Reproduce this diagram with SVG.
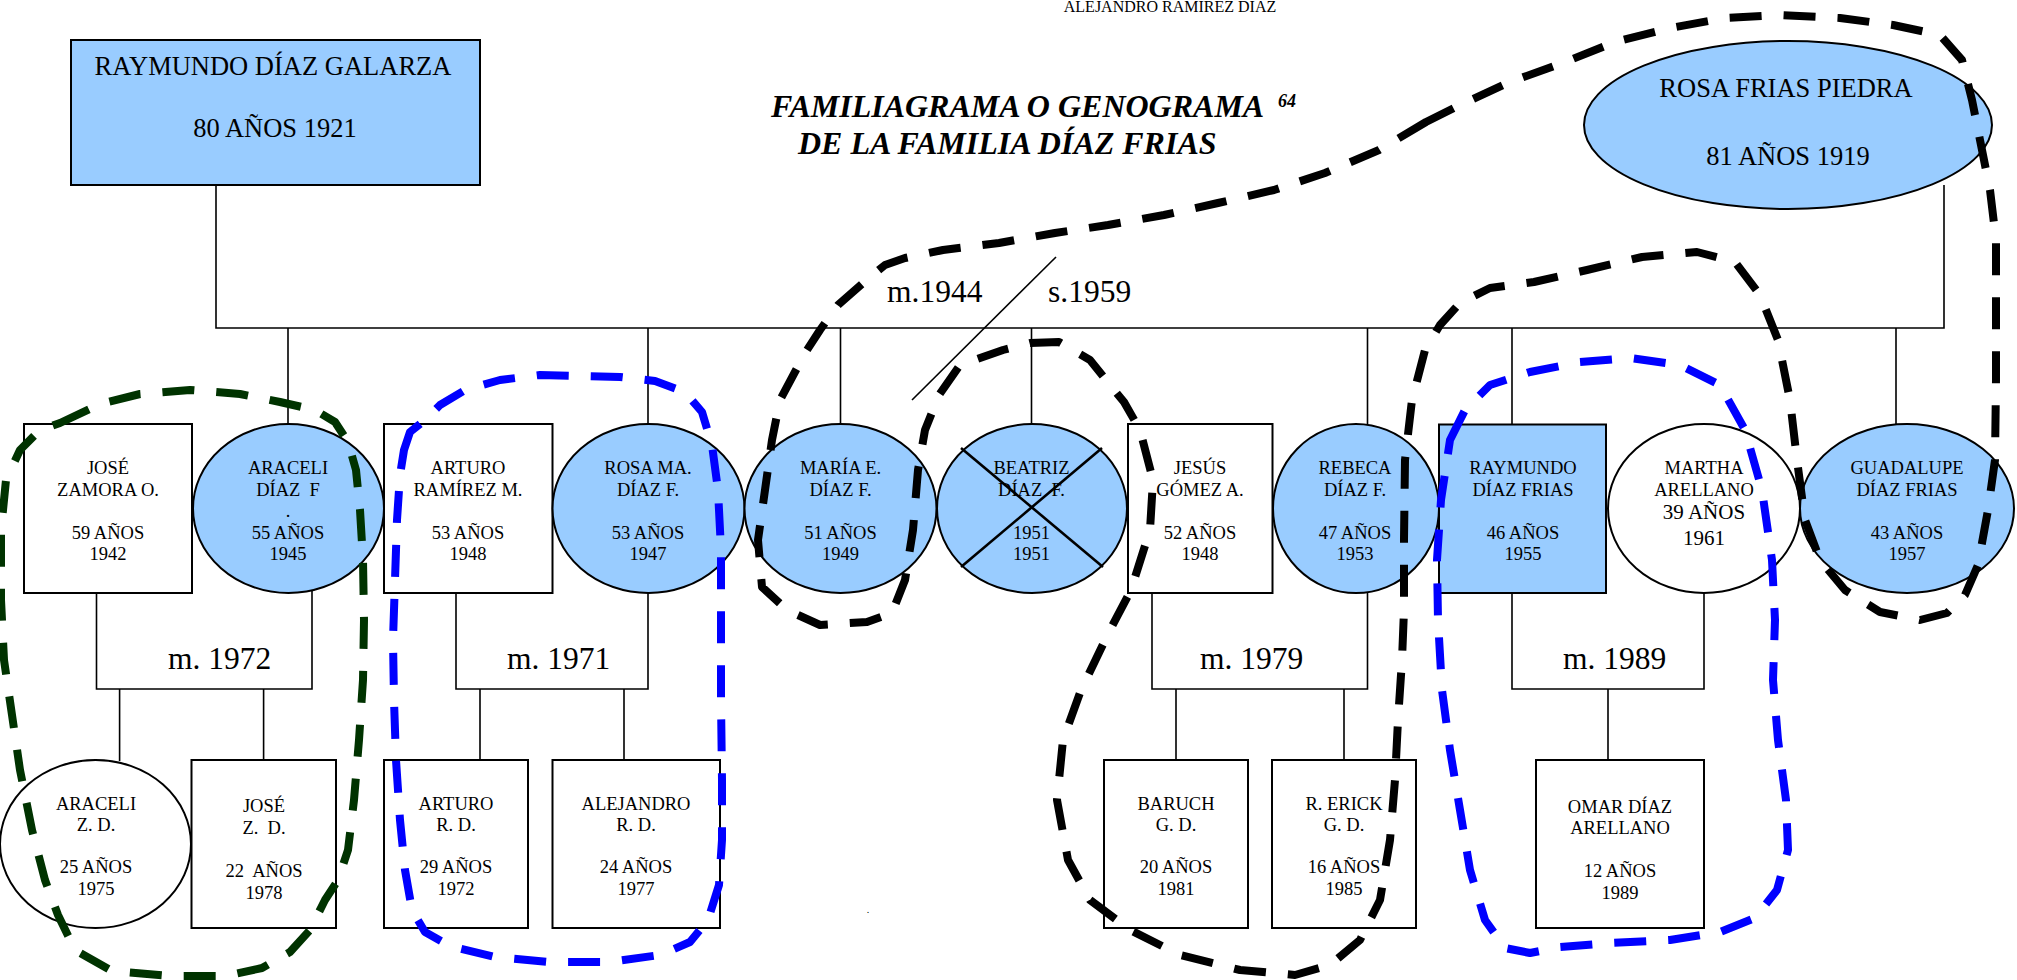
<svg xmlns="http://www.w3.org/2000/svg" width="2017" height="980" viewBox="0 0 2017 980">
<style>
.bg{fill:#fff}
.nb{fill:#99CCFF;stroke:#000;stroke-width:2}
.nw{fill:#fff;stroke:#000;stroke-width:2}
.ln{stroke:#000;stroke-width:1.6;fill:none}
.x{stroke:#000;stroke-width:2.6}
.t{font-family:"Liberation Serif","Times New Roman",serif;font-size:18.5px;fill:#000;text-anchor:middle;white-space:pre}
.big{font-family:"Liberation Serif","Times New Roman",serif;font-size:26.5px;fill:#000;text-anchor:middle}
.lab{font-family:"Liberation Serif","Times New Roman",serif;font-size:31.5px;fill:#000}
.title{font-family:"Liberation Serif","Times New Roman",serif;font-size:32px;font-weight:bold;font-style:italic;fill:#000}
.dash{fill:none;stroke-width:8;stroke-dasharray:32 22;stroke-linejoin:round}
.k{stroke:#000}
.b{stroke:#0000FF}
.g{stroke:#003300}
</style>
<rect class="bg" x="0" y="0" width="2017" height="980"/>
<text class="t" x="1170" y="12" style="font-size:16px">ALEJANDRO RAMÍREZ DÍAZ</text>
<g id="title">
<text class="title" x="771" y="117">FAMILIAGRAMA O GENOGRAMA <tspan x="1278" y="107" style="font-size:18px">64</tspan></text>
<text class="title" x="798" y="154">DE LA FAMILIA DÍAZ FRIAS</text>
</g>
<g id="connectors">
<path class="ln" d="M216,185 V328 H1944 V185"/>
<path class="ln" d="M288,328 V424 M648,328 V424 M840.5,328 V424 M1031.5,328 V424 M1367.5,328 V424 M1512,328 V424 M1896,328 V424"/>
<path class="ln" d="M1056,257 L912,400"/>
<path class="ln" d="M96.5,593 V689 H312 V590"/>
<path class="ln" d="M456,593 V689 H648 V593"/>
<path class="ln" d="M1152,593 V689 H1367.5 V592"/>
<path class="ln" d="M1512,593 V689 H1704 V593"/>
<path class="ln" d="M119.6,689 V761 M263.6,689 V760 M480,689 V760 M624,689 V760 M1176,689 V760 M1344,689 V760 M1608,689 V760"/>
<text class="lab" x="168" y="669">m. 1972</text>
<text class="lab" x="507" y="669">m. 1971</text>
<text class="lab" x="1200" y="669">m. 1979</text>
<text class="lab" x="1563" y="669">m. 1989</text>
<text class="lab" x="887" y="302">m.1944</text>
<text class="lab" x="1048" y="302">s.1959</text>
</g>
<g id="raymundo-diaz-galarza">
<rect class="nb" x="71" y="40" width="409" height="145"/>
<text class="big" x="273" y="75">RAYMUNDO DÍAZ GALARZA</text>
<text class="big" x="275" y="137">80 AÑOS 1921</text>
</g>
<g id="rosa-frias-piedra">
<ellipse class="nb" cx="1788" cy="125" rx="204" ry="84"/>
<text class="big" x="1786" y="97">ROSA FRIAS PIEDRA</text>
<text class="big" x="1788" y="165">81 AÑOS 1919</text>
</g>
<g id="jose-zamora">
<rect class="nw" x="24" y="424" width="168" height="169"/>
<text class="t" x="108" y="474">JOSÉ</text><text class="t" x="108" y="495.5">ZAMORA O.</text>
<text class="t" x="108" y="538.5">59 AÑOS</text><text class="t" x="108" y="560">1942</text>
</g>
<g id="araceli-diaz">
<ellipse class="nb" cx="288.5" cy="508.5" rx="95.5" ry="84.5"/>
<text class="t" x="288" y="474">ARACELI</text><text class="t" x="288" y="495.5">DÍAZ  F</text>
<text class="t" x="288" y="517">.</text>
<text class="t" x="288" y="538.5">55 AÑOS</text><text class="t" x="288" y="560">1945</text>
</g>
<g id="arturo-ramirez">
<rect class="nw" x="384" y="424" width="168.5" height="169"/>
<text class="t" x="468" y="474">ARTURO</text><text class="t" x="468" y="495.5">RAMÍREZ M.</text>
<text class="t" x="468" y="538.5">53 AÑOS</text><text class="t" x="468" y="560">1948</text>
</g>
<g id="rosa-ma-diaz">
<ellipse class="nb" cx="648.5" cy="508.5" rx="96" ry="84.5"/>
<text class="t" x="648" y="474">ROSA MA.</text><text class="t" x="648" y="495.5">DÍAZ F.</text>
<text class="t" x="648" y="538.5">53 AÑOS</text><text class="t" x="648" y="560">1947</text>
</g>
<g id="maria-e-diaz">
<ellipse class="nb" cx="840.5" cy="508.5" rx="96" ry="84.5"/>
<text class="t" x="840.5" y="474">MARÍA E.</text><text class="t" x="840.5" y="495.5">DÍAZ F.</text>
<text class="t" x="840.5" y="538.5">51 AÑOS</text><text class="t" x="840.5" y="560">1949</text>
</g>
<g id="beatriz-diaz">
<ellipse class="nb" cx="1032" cy="508.5" rx="95" ry="84.5"/>
<text class="t" x="1031.5" y="474">BEATRIZ</text><text class="t" x="1031.5" y="495.5">DÍAZ  F.</text>
<text class="t" x="1031.5" y="538.5">1951</text><text class="t" x="1031.5" y="560">1951</text>
<line class="x" x1="961" y1="448" x2="1103" y2="567"/>
<line class="x" x1="1102" y1="448" x2="961" y2="567"/>
</g>
<g id="jesus-gomez">
<rect class="nw" x="1128" y="424" width="144.5" height="169"/>
<text class="t" x="1200" y="474">JESÚS</text><text class="t" x="1200" y="495.5">GÓMEZ A.</text>
<text class="t" x="1200" y="538.5">52 AÑOS</text><text class="t" x="1200" y="560">1948</text>
</g>
<g id="rebeca-diaz">
<ellipse class="nb" cx="1356" cy="508.5" rx="83" ry="84.5"/>
<text class="t" x="1355" y="474">REBECA</text><text class="t" x="1355" y="495.5">DÍAZ F.</text>
<text class="t" x="1355" y="538.5">47 AÑOS</text><text class="t" x="1355" y="560">1953</text>
</g>
<g id="raymundo-diaz-frias">
<rect class="nb" x="1439" y="424.5" width="167" height="168.5"/>
<text class="t" x="1523" y="474">RAYMUNDO</text><text class="t" x="1523" y="495.5">DÍAZ FRIAS</text>
<text class="t" x="1523" y="538.5">46 AÑOS</text><text class="t" x="1523" y="560">1955</text>
</g>
<g id="martha-arellano">
<ellipse class="nw" cx="1704" cy="508.5" rx="96" ry="84.5"/>
<text class="t" x="1704" y="474">MARTHA</text><text class="t" x="1704" y="495.5">ARELLANO</text>
<text class="t" x="1704" y="519" style="font-size:21px">39 AÑOS</text><text class="t" x="1704" y="545" style="font-size:21px">1961</text>
</g>
<g id="guadalupe-diaz">
<ellipse class="nb" cx="1907" cy="508.5" rx="107" ry="84.5"/>
<text class="t" x="1907" y="474">GUADALUPE</text><text class="t" x="1907" y="495.5">DÍAZ FRIAS</text>
<text class="t" x="1907" y="538.5">43 AÑOS</text><text class="t" x="1907" y="560">1957</text>
</g>
<g id="araceli-zd">
<ellipse class="nw" cx="95.5" cy="844" rx="95.5" ry="84"/>
<text class="t" x="96" y="810">ARACELI</text><text class="t" x="96" y="831">Z. D.</text>
<text class="t" x="96" y="873">25 AÑOS</text><text class="t" x="96" y="895">1975</text>
</g>
<g id="jose-zd">
<rect class="nw" x="191.5" y="760" width="144.5" height="168"/>
<text class="t" x="264" y="812">JOSÉ</text><text class="t" x="264" y="834">Z.  D.</text>
<text class="t" x="264" y="877">22  AÑOS</text><text class="t" x="264" y="899">1978</text>
</g>
<g id="arturo-rd">
<rect class="nw" x="384" y="760" width="144" height="168"/>
<text class="t" x="456" y="810">ARTURO</text><text class="t" x="456" y="831">R. D.</text>
<text class="t" x="456" y="873">29 AÑOS</text><text class="t" x="456" y="895">1972</text>
</g>
<g id="alejandro-rd">
<rect class="nw" x="552.5" y="760" width="167.5" height="168"/>
<text class="t" x="636" y="810">ALEJANDRO</text><text class="t" x="636" y="831">R. D.</text>
<text class="t" x="636" y="873">24 AÑOS</text><text class="t" x="636" y="895">1977</text>
</g>
<g id="baruch-gd">
<rect class="nw" x="1104" y="760" width="144" height="168"/>
<text class="t" x="1176" y="810">BARUCH</text><text class="t" x="1176" y="831">G. D.</text>
<text class="t" x="1176" y="873">20 AÑOS</text><text class="t" x="1176" y="895">1981</text>
</g>
<g id="erick-gd">
<rect class="nw" x="1272" y="760" width="144" height="168"/>
<text class="t" x="1344" y="810">R. ERICK</text><text class="t" x="1344" y="831">G. D.</text>
<text class="t" x="1344" y="873">16 AÑOS</text><text class="t" x="1344" y="895">1985</text>
</g>
<g id="omar-diaz">
<rect class="nw" x="1536" y="760" width="168" height="168"/>
<text class="t" x="1620" y="813">OMAR DÍAZ</text><text class="t" x="1620" y="834">ARELLANO</text>
<text class="t" x="1620" y="877">12 AÑOS</text><text class="t" x="1620" y="899">1989</text>
</g>
<text class="t" x="868" y="913" style="font-size:10px">.</text>
<g id="groupings">
<path class="dash g" d="M60,423 L100,404 L140,394 L190,390 L240,394 L280,402 L315,410 L335,422 L348,442 L356,470 L360,510 L363,560 L364,620 L363,680 L359,740 L354,800 L348,850 L338,880 L325,900 L310,930 L290,952 L262,968 L225,976 L170,976 L112,971 L75,950 L58,915 L45,880 L32,830 L20,770 L12,715 L4,660 L1,600 L1,530 L6,480 L20,450 L40,430 Z"/>
<path class="dash b" d="M404,450 L410,432 L425,420 L440,405 L465,390 L500,380 L540,375 L580,376 L620,377 L655,381 L685,392 L702,412 L712,445 L718,490 L721,550 L721,620 L721,700 L722,780 L722,840 L719,885 L708,920 L690,942 L660,955 L610,962 L550,962 L495,957 L450,946 L425,932 L412,910 L405,870 L400,820 L396,760 L394,700 L393,640 L395,580 L397,520 L400,475 Z"/>
<path class="dash b" d="M1450,440 L1465,410 L1490,385 L1530,372 L1580,362 L1630,358 L1680,365 L1720,385 L1745,430 L1762,490 L1772,560 L1775,620 L1773,680 L1778,740 L1786,800 L1788,850 L1777,890 L1755,918 L1720,932 L1670,940 L1610,943 L1560,947 L1530,953 L1505,948 L1485,920 L1470,870 L1460,810 L1450,750 L1442,690 L1438,620 L1437,560 L1441,500 L1447,460 Z"/>
<path class="dash k" d="M1426,122 L1379,150 L1325,173 L1274,190 L1218,203 L1164,215 L1108,225 L1055,233 L999,243 L943,250 L905,258 L885,265 L863,283 L838,305 L820,330 L807,350 L796,370 L780,400 L772,440 L765,490 L758,540 L762,587 L787,610 L820,625 L867,622 L892,613 L905,580 L913,530 L918,470 L925,430 L939,395 L960,365 L1003,350 L1030,343 L1059,342 L1090,360 L1106,380 L1124,402 L1140,430 L1153,480 L1150,530 L1131,590 L1110,630 L1081,690 L1063,740 L1057,800 L1068,860 L1090,900 L1130,930 L1180,955 L1240,970 L1295,975 L1330,965 L1360,940 L1380,900 L1390,840 L1395,780 L1398,720 L1402,660 L1404,610 L1404,540 L1405,460 L1412,400 L1425,350 L1440,325 L1460,303 L1490,288 L1534,282 L1587,270 L1642,257 L1697,252 L1735,262 L1760,295 L1778,340 L1790,400 L1797,460 L1805,520 L1820,560 L1845,590 L1880,612 L1920,620 L1947,613 L1965,595 L1978,565 L1988,510 L1995,460 L1996,380 L1996,300 L1996,240 L1990,190 L1982,150 L1972,100 L1962,60 L1940,35 L1893,25 L1840,18 L1780,15 L1725,18 L1670,28 L1615,42 L1565,62 L1510,82 L1460,105 Z"/>
</g>
</svg>
